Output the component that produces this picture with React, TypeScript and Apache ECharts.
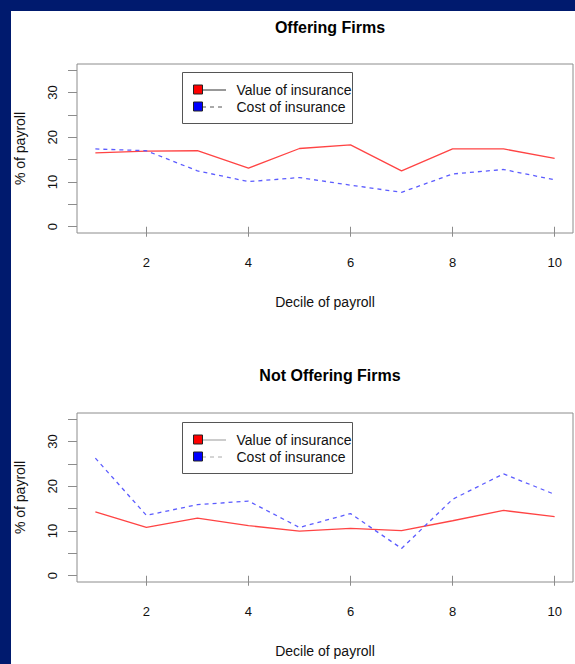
import React, { useEffect, useRef } from "react";
import * as echarts from "echarts";

const deciles = [1, 2, 3, 4, 5, 6, 7, 8, 9, 10];
const offeringValue = [16.5, 16.9, 17.0, 13.1, 17.5, 18.3, 12.5, 17.4, 17.4, 15.3];
const offeringCost = [17.4, 17.0, 12.5, 10.1, 11.0, 9.3, 7.7, 11.8, 12.8, 10.5];
const notOfferingValue = [14.3, 10.8, 12.9, 11.2, 10.0, 10.6, 10.1, 12.3, 14.6, 13.2];
const notOfferingCost = [26.3, 13.5, 15.9, 16.7, 10.8, 13.9, 6.1, 17.1, 22.8, 18.2];
const xTicks = [2, 4, 6, 8, 10];
const yTicks = [0, 5, 10, 15, 20, 25, 30, 35];
const yLabels = [0, 10, 20, 30];
const titles = ["Offering Firms", "Not Offering Firms"];
const seriesNames = ["Value of insurance", "Cost of insurance"];

const FONT = "'Liberation Sans', Arial, Helvetica, sans-serif";
const NAVY = "#001a6e";
const BOX = "#8c8c8c";

const pairs = (ys: number[]) => deciles.map((d, i) => [d, ys[i]]);

export default function App() {
  const ref = useRef<HTMLDivElement>(null);
  useEffect(() => {
    if (!ref.current) return;
    const chart = echarts.init(ref.current, undefined, { renderer: "svg" });
    const gridTops = [64, 413];
    const gridH = 169;

    const xAxis = gridTops.map((_, i) => ({
      type: "value",
      gridIndex: i,
      min: 0.64,
      max: 10.36,
      splitLine: { show: false },
      axisLine: { show: false },
      axisTick: { show: true, length: 10, customValues: xTicks, lineStyle: { color: BOX, width: 1 } },
      axisLabel: { customValues: xTicks, margin: 23, fontSize: 13, color: "#111", fontFamily: FONT },
      name: "Decile of payroll",
      nameLocation: "middle",
      nameGap: 62,
      nameTextStyle: { fontSize: 14, color: "#111", fontFamily: FONT },
    }));

    const yAxis = gridTops.map((_, i) => ({
      type: "value",
      gridIndex: i,
      min: -1.4,
      max: 36.4,
      splitLine: { show: false },
      axisLine: { show: false },
      axisTick: { show: true, length: 9, customValues: yTicks, lineStyle: { color: BOX, width: 1 } },
      axisLabel: { customValues: yLabels, rotate: 90, margin: 18, fontSize: 13, color: "#111", fontFamily: FONT },
      name: "% of payroll",
      nameLocation: "middle",
      nameRotate: 90,
      nameGap: 50,
      nameTextStyle: { fontSize: 14, color: "#111", fontFamily: FONT },
    }));

    const mk = (name: string, data: number[], idx: number, dashed: boolean) => ({
      type: "line",
      name,
      xAxisIndex: idx,
      yAxisIndex: idx,
      data: pairs(data),
      symbol: "none",
      lineStyle: dashed
        ? { color: "#5c5cff", width: 1.3, type: [4, 4] }
        : { color: "#ff4444", width: 1.3 },
      itemStyle: { color: dashed ? "#0000ff" : "#ff0000" },
    });

    const legendTops = [72, 422];
    const legendBox = (top: number, lineColor: string, dashColor: string) => [
      { type: "rect", shape: { x: 182.5, y: top + 0.5, width: 170, height: 51 }, style: { fill: "#fff", stroke: "#555", lineWidth: 1 }, z: 5 },
      { type: "line", shape: { x1: 202, y1: top + 18, x2: 226, y2: top + 18 }, style: { stroke: lineColor, lineWidth: 1 }, z: 6 },
      { type: "line", shape: { x1: 202, y1: top + 35, x2: 226, y2: top + 35 }, style: { stroke: dashColor, lineWidth: 1, lineDash: [4, 4] }, z: 6 },
    ];

    chart.setOption({
      animation: false,
      backgroundColor: "#ffffff",
      title: titles.map((t, i) => ({
        text: t,
        left: 325,
        top: i === 0 ? 14 : 362,
        textAlign: "center",
        textStyle: { fontSize: 16, fontWeight: "bold", color: "#000", fontFamily: FONT },
      })),
      grid: gridTops.map((t) => ({
        left: 77,
        top: t,
        right: 2,
        height: gridH,
        show: true,
        borderColor: BOX,
        borderWidth: 1,
        backgroundColor: "transparent",
      })),
      xAxis,
      yAxis,
      legend: legendTops.map((t) => ({
        orient: "vertical",
        left: 193,
        top: t + 9,
        padding: 0,
        itemGap: 0,
        itemWidth: 9,
        itemHeight: 9,
        icon: "rect",
        selectedMode: false,
        z: 10,
        textStyle: { fontSize: 14, color: "#111", fontFamily: FONT, lineHeight: 17, padding: [0, 0, 0, 29] },
        data: [
          { name: seriesNames[0], itemStyle: { color: "#ff0000", borderColor: "#222", borderWidth: 1 } },
          { name: seriesNames[1], itemStyle: { color: "#0000ff", borderColor: "#222", borderWidth: 1 } },
        ],
      })),
      graphic: [
        { type: "rect", shape: { x: 0, y: 0, width: 575, height: 11 }, style: { fill: NAVY }, z: 20 },
        { type: "rect", shape: { x: 0, y: 0, width: 11, height: 664 }, style: { fill: NAVY }, z: 20 },
        ...legendBox(legendTops[0], "#333", "#555"),
        ...legendBox(legendTops[1], "#999", "#aaa"),
      ],
      series: [
        mk(seriesNames[0], offeringValue, 0, false),
        mk(seriesNames[1], offeringCost, 0, true),
        mk(seriesNames[0], notOfferingValue, 1, false),
        mk(seriesNames[1], notOfferingCost, 1, true),
      ],
    });
    return () => chart.dispose();
  }, []);

  return (
    <div style={{ position: "fixed", left: 0, top: 0, width: 575, height: 664, background: NAVY }}>
      <div ref={ref} style={{ width: 575, height: 664 }} />
    </div>
  );
}
